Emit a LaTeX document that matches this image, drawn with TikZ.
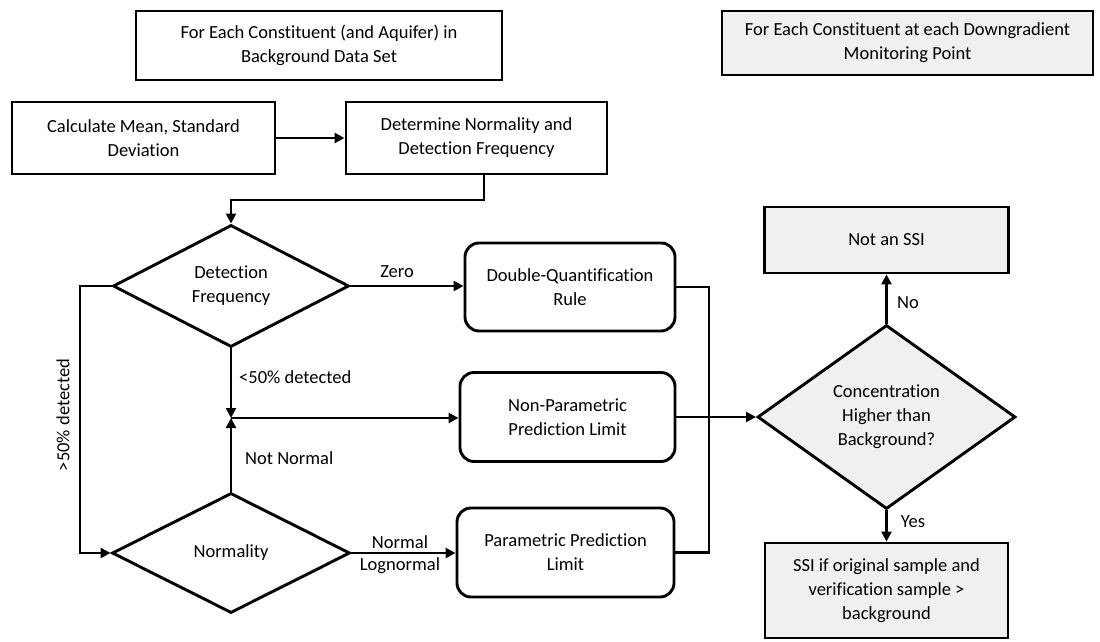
\documentclass[tikz,border=0pt]{standalone}
\usepackage{fontspec}
\setmainfont{Carlito}[Ligatures={NoCommon}]
\usetikzlibrary{arrows.meta,shapes.geometric}
\definecolor{boxgray}{RGB}{240,240,240}
\begin{document}
\begin{tikzpicture}[x=1pt,y=-1pt,font=\fontsize{18.5}{24}\selectfont]
\tikzset{
 box/.style={draw=black, line width=2.9pt, align=center, inner sep=0pt},
 rbox/.style={box, rounded corners=14pt},
 gbox/.style={box, fill=boxgray},
 dia/.style={draw=black, diamond, line width=2.9pt, align=center, inner sep=0pt},
 conn/.style={line width=2.9pt},
 arr/.style={conn, -{Triangle[length=10pt,width=10pt]}},
 lbl/.style={inner sep=0pt},
}
\useasboundingbox (0,0) rectangle (1100,642);

% top headers
\node[box, minimum width=366pt, minimum height=69pt] (A) at (319,45.5) {For Each Constituent (and Aquifer) in\\Background Data Set};
\node[gbox, minimum width=371pt, minimum height=64pt] (B) at (907.5,43) {For Each Constituent at each Downgradient\\Monitoring Point};

% first row
\node[box, minimum width=263pt, minimum height=72pt] (C) at (143.5,138) {Calculate Mean, Standard\\Deviation};
\node[box, minimum width=261pt, minimum height=72pt] (D) at (476.5,138) {Determine Normality and\\Detection Frequency};

% decisions
\node[dia, aspect=1.93, minimum width=236pt, minimum height=122pt] (d1) at (231,286) {Detection\\Frequency};
\node[dia, aspect=1.98, minimum width=238pt, minimum height=120pt] (d2) at (231,553) {Normality};
\node[dia, fill=boxgray, aspect=1.4, minimum width=258pt, minimum height=184pt] (d3) at (886.5,417) {Concentration\\Higher than\\Background?};

% methods
\node[rbox, minimum width=210pt, minimum height=88pt] (E) at (570,287) {Double-Quantification\\Rule};
\node[rbox, minimum width=215pt, minimum height=89pt] (F) at (567.5,417) {Non-Parametric\\Prediction Limit};
\node[rbox, minimum width=217pt, minimum height=89pt] (G) at (565.5,552.5) {Parametric Prediction\\Limit};

% outcomes
\node[gbox, minimum width=244pt, minimum height=66pt] (H) at (886.5,240) {Not an SSI};
\node[gbox, minimum width=243pt, minimum height=95pt] (I) at (886.5,590.5) {SSI if original sample and\\verification sample >\\background};

% helper coordinates
\coordinate (j1) at (231,418);
\coordinate (l2) at (80,553);
\coordinate (m1) at (709,287);

% connectors
\draw[arr] (C.east) -- (C.east -| D.west);
\draw[arr] (484,0 |- D.south) -- (484,200) -- (231,200) -- (d1.north);
\draw[arr] (d1.east) -- (d1.east -| E.west);
\draw[arr] (d1.south) -- (j1);
\draw[arr] (d2.north) -- (j1);
\draw[arr] (j1) -- (j1 -| F.west);
\draw[arr] (d1.west) -| (l2) -- (d2.west);
\draw[arr] (d2.east) -- (d2.east -| G.west);
\draw[conn] (E.east) -- (E.east -| m1) -- (m1 |- G.east) -- (G.east);
\draw[arr] (F.east) -- (d3.west);
\draw[arr] (d3.north) -- (H.south);
\draw[arr] (d3.south) -- (I.north);

% labels
\node[lbl] (lz) at (397,272) {Zero};
\node[lbl, anchor=west] (ll) at (239,377) {<50\% detected};
\node[lbl, anchor=west] (lnn) at (245,458) {Not Normal};
\node[lbl, rotate=90] (lg) at (63,415) {>50\% detected};
\node[lbl] (ln) at (400,542) {Normal};
\node[lbl] (lln) at (400,566) {Lognormal};
\node[lbl] (lno) at (908,303) {No};
\node[lbl] (lyes) at (913,522) {Yes};
\end{tikzpicture}
\end{document}
